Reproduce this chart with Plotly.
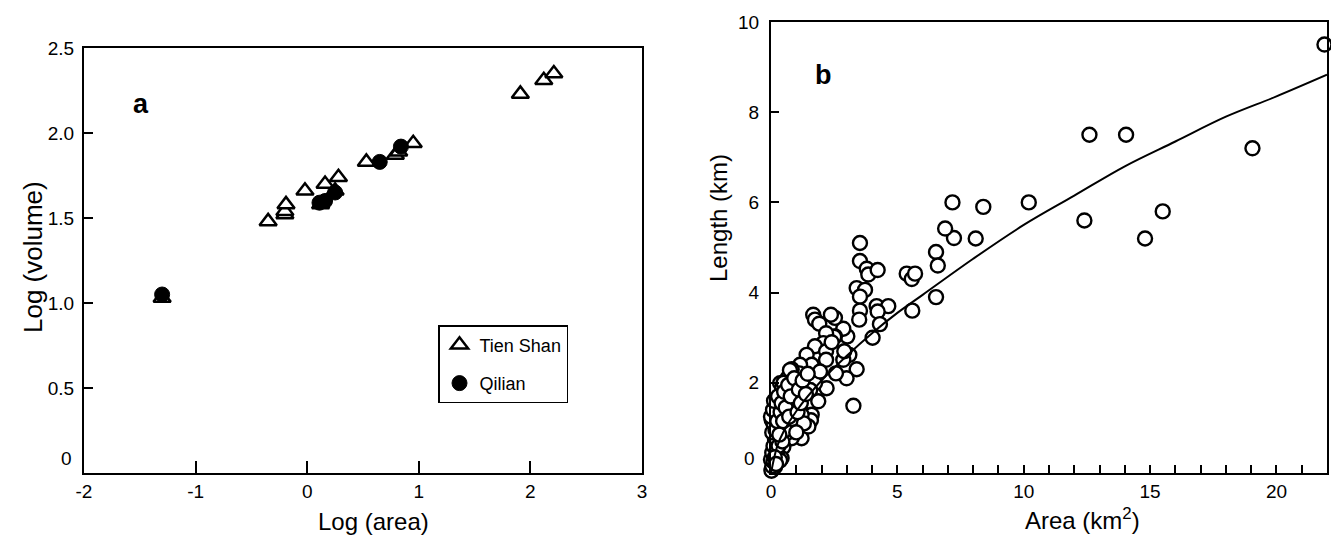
import plotly.graph_objects as go

# ---------------- Panel a data ----------------
tien_x = [-1.30, -0.35, -0.20, -0.20, -0.19, -0.02, 0.12, 0.16, 0.25, 0.28, 0.53, 0.79, 0.82, 0.95, 1.91, 2.12, 2.21]
tien_y = [1.03, 1.48, 1.52, 1.54, 1.58, 1.66, 1.58, 1.70, 1.66, 1.74, 1.83, 1.87, 1.89, 1.94, 2.23, 2.31, 2.35]
qil_x = [-1.30, 0.11, 0.16, 0.25, 0.65, 0.84]
qil_y = [1.05, 1.59, 1.60, 1.65, 1.83, 1.92]

# ---------------- Panel b data ----------------
area = [21.9, 19.05, 12.6, 14.05, 12.4, 15.5, 14.8, 10.2, 8.4, 8.1, 7.18, 7.24, 6.89, 6.53, 6.6, 6.53,
        5.37, 5.57, 5.7, 5.59, 3.52, 3.52, 3.79, 3.85, 4.22, 3.39, 3.72, 3.52, 3.52, 3.49, 4.18, 4.64,
        4.22, 4.31, 4.02, 3.26, 3.39, 2.99, 3.1, 2.86, 3.02, 2.86, 2.53, 2.5, 2.53, 2.37, 1.67, 1.74,
        1.91, 2.18, 2.07, 1.74, 1.41, 1.61, 2.18, 2.18, 2.57, 2.2, 1.87, 1.61, 1.58, 1.21, 0.82, 1.15,
        1.12, 0.82, 0.75, 0.59, 0.49, 0.46, 0.49, 0.42, 0.16, 0.03, 1.28, 1.34, 1.02, 1.15, 1.48, 1.21,
        0.88, 0.69, 0.95, 0.82, 1.74, 1.94, 1.55, 0.36, 0.29, 0.23, 0.16, 0.10, -0.04, -0.01, -0.06, 0.03,
        0.16, 0.36, 0.65, 0.75, 0.62, 0.36, 0.55, 0.23, 0.36, 0.02, 0.05, 0.0, 0.10, 0.05, 0.10, 0.15,
        0.05, 0.20, 0.10, 0.25, 0.30, 0.20, 0.35, 0.40, 0.45, 0.50, 0.55, 0.60, 0.65, 0.70, 0.80, 0.85,
        0.30, 0.15, 0.20, 0.40, 0.45, 0.55, 0.60, 0.90, 2.9, 2.4, 1.3, 1.0,
        -0.10, -0.12, -0.08, -0.05, 0.00, 0.08, 0.12, 0.18, 0.25, 0.28, 0.33, 0.38, 0.42, 0.48,
        0.52, 0.58, 0.68, 0.72, 0.78, 0.92, 1.05, 1.10, 1.18, 1.25, 1.38, 1.45]
length = [9.5, 7.2, 7.5, 7.5, 5.6, 5.8, 5.2, 6.0, 5.9, 5.2, 6.0, 5.21, 5.42, 4.9, 4.6, 3.9,
          4.42, 4.3, 4.42, 3.6, 5.1, 4.7, 4.53, 4.4, 4.5, 4.1, 4.06, 3.91, 3.6, 3.4, 3.7, 3.7,
          3.58, 3.3, 3.0, 1.49, 2.3, 2.1, 2.62, 2.51, 3.03, 3.2, 3.03, 3.02, 3.44, 3.51, 3.51, 3.4,
          3.31, 3.1, 2.88, 2.81, 2.62, 2.4, 2.7, 2.51, 2.21, 1.88, 1.59, 1.29, 1.17, 0.77, 0.77, 2.4,
          2.21, 2.3, 2.03, 1.84, 1.47, 1.2, 0.58, 0.33, 0.14, 0.07, 1.99, 1.77, 1.7, 1.4, 1.03, 1.29,
          1.18, 1.03, 1.4, 1.62, 1.99, 2.25, 1.84, 1.7, 1.4, 1.03, 0.73, 0.51, 0.88, 0.58, 0.36, 1.17,
          1.33, 1.99, 2.1, 2.28, 0.88, 0.8, 1.25, 0.43, 0.28, 0.05, 0.15, 0.3, 0.25, 0.45, 0.6, 0.8,
          0.9, 1.0, 1.1, 1.3, 1.5, 1.45, 1.55, 1.75, 1.9, 2.0, 1.6, 1.3, 1.05, 1.5, 1.9, 1.2,
          0.6, 0.35, 0.2, 1.0, 0.7, 0.95, 1.75, 1.55, 2.7, 2.9, 1.1, 0.9,
          0.2, 0.45, 0.7, 0.95, 1.25, 1.4, 1.6, 0.95, 1.15, 1.7, 0.85, 1.35, 1.55, 1.15,
          1.8, 1.45, 1.95, 1.25, 1.7, 2.1, 1.35, 1.85, 1.55, 2.05, 1.75, 2.2]

fit_x = [0.0, 0.25, 0.5, 1.0, 2.0, 3.0, 4.0, 5.0, 6.0, 8.0, 10.0, 12.0, 14.0, 16.0, 18.0, 20.0, 22.0]
fit_y = [0.0, 0.6, 0.92, 1.37, 2.05, 2.6, 3.1, 3.55, 3.95, 4.75, 5.5, 6.15, 6.8, 7.35, 7.9, 8.35, 8.83]

FONT = "Liberation Sans, Arial, sans-serif"

fig = go.Figure()

fig.add_trace(go.Scatter(
    x=tien_x, y=tien_y, mode="markers", name="Tien Shan",
    marker=dict(symbol="triangle-up", size=15, color="white", line=dict(color="black", width=2.5)),
    xaxis="x", yaxis="y", cliponaxis=False, legendgroup="t"))
fig.add_trace(go.Scatter(
    x=qil_x, y=qil_y, mode="markers", name="Qilian",
    marker=dict(symbol="circle", size=15, color="black", line=dict(color="black", width=1)),
    xaxis="x", yaxis="y", cliponaxis=False, legendgroup="q"))

fig.add_trace(go.Scatter(
    x=area, y=length, mode="markers", showlegend=False,
    marker=dict(symbol="circle", size=14, color="white", line=dict(color="black", width=2.4)),
    xaxis="x2", yaxis="y2", cliponaxis=False))
fig.add_trace(go.Scatter(
    x=fit_x, y=fit_y, mode="lines", showlegend=False, line=dict(color="black", width=2, shape="spline"),
    xaxis="x2", yaxis="y2"))

# The page body adds an 8 px offset; the figure is sized to fit the window.
OFF = 8
W, H = 1339 - OFF, 537 - OFF
def px(v): return (v - OFF) / W
def py(v): return 1 - (v - OFF) / H

common = dict(showline=True, linecolor="black", linewidth=2, mirror=True, showgrid=False,
              zeroline=False, ticks="inside", tickcolor="black", tickwidth=1.5, automargin=False,
              tickfont=dict(family=FONT, size=19, color="black"))

fig.update_layout(
    width=W, height=H, margin=dict(l=0, r=0, t=0, b=0, autoexpand=False),
    plot_bgcolor="white", paper_bgcolor="white",
    xaxis=dict(domain=[px(84), px(642)], range=[-2, 3], tickvals=[-2, -1, 0, 1, 2, 3],
               ticktext=["-2", "-1", "0", "1", "2", "3"], ticklen=12, anchor="y", **common),
    yaxis=dict(domain=[py(473), py(48)], range=[0, 2.5], tickvals=[0.5, 1.0, 1.5, 2.0, 2.5],
               ticktext=["0.5", "1.0", "1.5", "2.0", "2.5"], ticklen=9, anchor="x",
               ticklabelstandoff=4, **common),
    xaxis2=dict(domain=[px(771), px(1327)], range=[0, 22], tickvals=[0, 5, 10, 15, 20],
                ticklen=8, anchor="y2",
                minor=dict(dtick=1, ticks="inside", ticklen=8, tickcolor="black", tickwidth=1.5),
                **common),
    yaxis2=dict(domain=[py(473), py(22)], range=[0, 10], tickvals=[2, 4, 6, 8, 10],
                ticklen=8, anchor="x2", ticklabelstandoff=6, **common),
    legend=dict(x=px(438), y=py(325), xanchor="left", yanchor="top",
                bordercolor="black", borderwidth=1.5, bgcolor="white",
                font=dict(family=FONT, size=18, color="black"),
                tracegroupgap=12, traceorder="grouped"),
    showlegend=True,
)

def A(text, x, y, size=24, angle=0, bold=False):
    return dict(text=text, x=px(x), y=py(y), xref="paper", yref="paper", showarrow=False,
                xanchor="center", yanchor="middle", textangle=angle,
                font=dict(family=FONT, size=size, color="black", weight="bold" if bold else "normal"))

ann = [
    A("a", 141, 104, 27, bold=True),
    A("b", 824, 75, 27, bold=True),
    A("Log (area)", 373, 521),
    A("Log (volume)", 33, 257, size=26, angle=-90),
    A("Area (km<sup>2</sup>)", 1082, 519),
    A("Length (km)", 718, 218, angle=-90),
    dict(text="0", x=0, xref="x domain", y=0, yref="y", xanchor="right", yanchor="middle",
         xshift=-10, yshift=15, showarrow=False, font=dict(family=FONT, size=19, color="black")),
    dict(text="0", x=0, xref="x2 domain", y=0, yref="y2", xanchor="right", yanchor="middle",
         xshift=-14, yshift=15, showarrow=False, font=dict(family=FONT, size=19, color="black")),
]
fig.update_layout(annotations=ann)

fig.write_html("out.html")
